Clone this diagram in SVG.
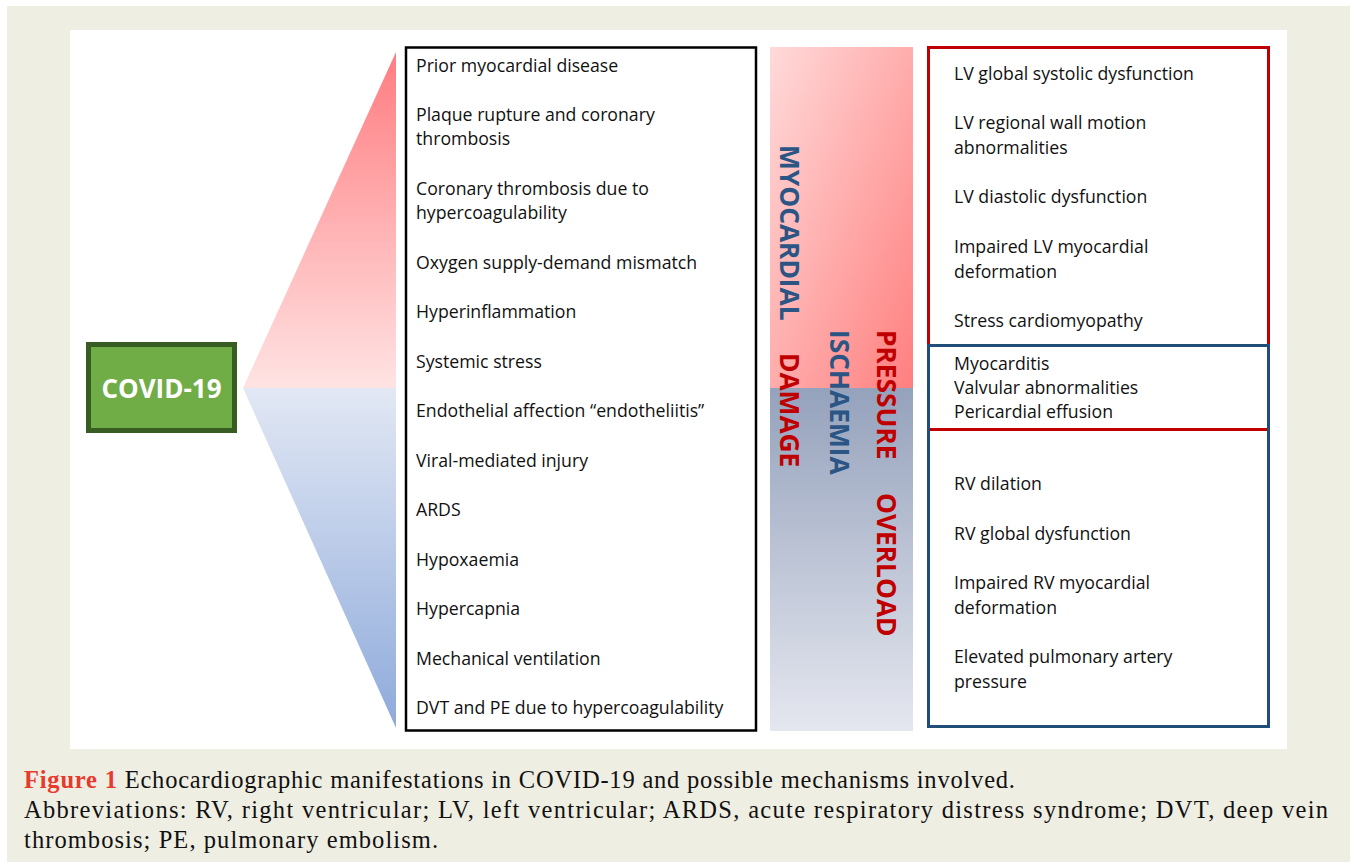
<svg xmlns="http://www.w3.org/2000/svg" width="1354" height="866" viewBox="0 0 1354 866">
<defs>
<linearGradient id="triPink" x1="0" y1="0" x2="0" y2="1">
<stop offset="0" stop-color="#FF7C80"/>
<stop offset="1" stop-color="#FFE3E3"/>
</linearGradient>
<linearGradient id="triBlue" x1="0" y1="0" x2="0" y2="1">
<stop offset="0" stop-color="#E2E8F4"/>
<stop offset="1" stop-color="#8EAADB"/>
</linearGradient>
<linearGradient id="colPink" x1="0" y1="0" x2="1" y2="1">
<stop offset="0" stop-color="#FFDADA"/>
<stop offset="1" stop-color="#FF7F7F"/>
</linearGradient>
<linearGradient id="colBlue" x1="0" y1="0" x2="0" y2="1">
<stop offset="0" stop-color="#95A2BC"/>
<stop offset="1" stop-color="#E5E7EF"/>
</linearGradient>
</defs>
<style>
.item{font-family:"Open Sans","Noto Sans",sans-serif;font-size:17.7px;fill:#111111}
.vert{font-family:"Open Sans","Noto Sans",sans-serif;font-size:26.3px;font-weight:bold}
.blue{fill:#2B5584}
.red{fill:#C00000}
.cap{font-family:"Liberation Serif","DejaVu Serif",serif;font-size:24.5px;fill:#111111}
</style>
<rect x="7" y="6" width="1343" height="856" fill="#EFEEE3"/>
<rect x="70" y="30" width="1217" height="719" fill="#FFFFFF"/>

<g id="triangle">
<polygon points="396,52 243,388 396,388" fill="url(#triPink)"/>
<polygon points="243,388 396,388 396,728" fill="url(#triBlue)"/>
</g>

<g id="covid">
<rect x="88.5" y="344.5" width="146" height="86" fill="#70AD47" stroke="#385D22" stroke-width="5"/>
<text x="161.5" y="398" text-anchor="middle" font-family="'Open Sans','Noto Sans',sans-serif" font-size="26" font-weight="bold" fill="#FFFFFF">COVID-19</text>
</g>

<g id="mechanisms">
<rect x="406" y="47.5" width="350" height="683" fill="#FFFFFF" stroke="#000000" stroke-width="2.5"/>
<text class="item" x="416" y="72">Prior myocardial disease</text>
<text class="item" x="416" y="121">Plaque rupture and coronary</text>
<text class="item" x="416" y="145">thrombosis</text>
<text class="item" x="416" y="195">Coronary thrombosis due to</text>
<text class="item" x="416" y="219">hypercoagulability</text>
<text class="item" x="416" y="269">Oxygen supply-demand mismatch</text>
<text class="item" x="416" y="318">Hyperinflammation</text>
<text class="item" x="416" y="368">Systemic stress</text>
<text class="item" x="416" y="417">Endothelial affection “endotheliitis”</text>
<text class="item" x="416" y="467">Viral-mediated injury</text>
<text class="item" x="416" y="516">ARDS</text>
<text class="item" x="416" y="566">Hypoxaemia</text>
<text class="item" x="416" y="615">Hypercapnia</text>
<text class="item" x="416" y="665">Mechanical ventilation</text>
<text class="item" x="416" y="714">DVT and PE due to hypercoagulability</text>
</g>

<g id="categories">
<rect x="770" y="47" width="143" height="341" fill="url(#colPink)"/>
<rect x="770" y="388" width="143" height="343" fill="url(#colBlue)"/>
<text class="vert blue" transform="translate(780,145) rotate(90)">MYOCARDIAL</text>
<text class="vert red" transform="translate(780,353) rotate(90)">DAMAGE</text>
<text class="vert blue" transform="translate(830,330) rotate(90)">ISCHAEMIA</text>
<text class="vert red" transform="translate(877,330) rotate(90)">PRESSURE</text>
<text class="vert red" transform="translate(877,493) rotate(90)">OVERLOAD</text>
</g>

<g id="lv-box">
<rect x="928.5" y="47.5" width="340" height="382" fill="#FFFFFF" stroke="#C00000" stroke-width="3"/>
<text class="item" x="954" y="80">LV global systolic dysfunction</text>
<text class="item" x="954" y="129">LV regional wall motion</text>
<text class="item" x="954" y="154">abnormalities</text>
<text class="item" x="954" y="203">LV diastolic dysfunction</text>
<text class="item" x="954" y="253">Impaired LV myocardial</text>
<text class="item" x="954" y="278">deformation</text>
<text class="item" x="954" y="327">Stress cardiomyopathy</text>
</g>

<g id="rv-box">
<rect x="928.5" y="345.5" width="340" height="381" fill="none" stroke="#1F4E79" stroke-width="3"/>
<line x1="930" y1="429.5" x2="1267" y2="429.5" stroke="#C00000" stroke-width="3"/>
<text class="item" x="954" y="370">Myocarditis</text>
<text class="item" x="954" y="394">Valvular abnormalities</text>
<text class="item" x="954" y="418">Pericardial effusion</text>
<text class="item" x="954" y="490">RV dilation</text>
<text class="item" x="954" y="540">RV global dysfunction</text>
<text class="item" x="954" y="589">Impaired RV myocardial</text>
<text class="item" x="954" y="614">deformation</text>
<text class="item" x="954" y="663">Elevated pulmonary artery</text>
<text class="item" x="954" y="688">pressure</text>
</g>

<g id="caption">
<text class="cap" x="24" y="788" textLength="991"><tspan fill="#E8392E" font-weight="bold">Figure 1</tspan> Echocardiographic manifestations in COVID-19 and possible mechanisms involved.</text>
<text class="cap" x="24" y="818" textLength="1304">Abbreviations: RV, right ventricular; LV, left ventricular; ARDS, acute respiratory distress syndrome; DVT, deep vein</text>
<text class="cap" x="24" y="848" textLength="414">thrombosis; PE, pulmonary embolism.</text>
</g>
</svg>
